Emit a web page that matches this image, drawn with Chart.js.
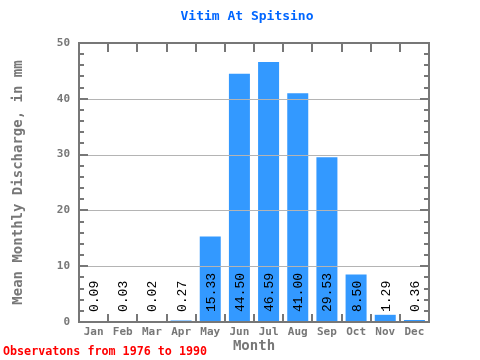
<!DOCTYPE html>
<html><head><meta charset="utf-8">
<script src="https://cdn.jsdelivr.net/npm/chart.js@4"></script>
<style>html,body{margin:0;padding:0;background:#fff}</style>
</head><body>
<canvas id="c" width="480" height="360"></canvas>
<script>
const chartTitle = 'Vitim At Spitsino';
const months = ['Jan','Feb','Mar','Apr','May','Jun','Jul','Aug','Sep','Oct','Nov','Dec'];
const discharge = [0.09, 0.03, 0.02, 0.27, 15.33, 44.50, 46.59, 41.00, 29.53, 8.50, 1.29, 0.36];
const valueLabels = ['0.09','0.03','0.02','0.27','15.33','44.50','46.59','41.00','29.53','8.50','1.29','0.36'];
const yMin = 0;
const yMax = 50;
const yStep = 10;
const yMinorStep = 2;
const yAxisTitle = 'Mean Monthly Discharge, in mm';
const xAxisTitle = 'Month';
const footerText = 'Observatons from 1976 to 1990';

const MONO = "'DejaVu Sans Mono', 'Liberation Mono', monospace";
const THIN = "'Liberation Mono', 'DejaVu Sans Mono', monospace";
const AXIS = '#777777';

const decor = {
  id: 'decor',
  afterDatasetsDraw(chart) {
    const ctx = chart.ctx;
    const a = chart.chartArea;
    const xs = chart.scales.x, ys = chart.scales.y;
    ctx.save();
    // horizontal gridlines over bars
    ctx.strokeStyle = '#b4b4b4';
    ctx.lineWidth = 1;
    ys.ticks.forEach(t => {
      if (t.value <= yMin || t.value >= yMax) return;
      const y = Math.round(ys.getPixelForValue(t.value)) + 0.5;
      ctx.beginPath(); ctx.moveTo(a.left, y); ctx.lineTo(a.right, y); ctx.stroke();
    });
    // y ticks (inward, both sides)
    ctx.strokeStyle = AXIS;
    ctx.lineWidth = 2;
    for (let v = yMin; v <= yMax; v += yMinorStep) {
      const y = Math.round(ys.getPixelForValue(v));
      const len = (v % yStep === 0) ? 9 : 5;
      ctx.beginPath(); ctx.moveTo(a.left, y); ctx.lineTo(a.left + len, y); ctx.stroke();
      ctx.beginPath(); ctx.moveTo(a.right, y); ctx.lineTo(a.right - len, y); ctx.stroke();
    }
    // category boundary ticks top & bottom
    const n = months.length;
    for (let i = 0; i <= n; i++) {
      let x;
      if (i === 0) x = a.left;
      else if (i === n) x = a.right;
      else x = (xs.getPixelForValue(i - 1) + xs.getPixelForValue(i)) / 2;
      x = Math.round(x);
      ctx.beginPath(); ctx.moveTo(x, a.top); ctx.lineTo(x, a.top + 9); ctx.stroke();
      ctx.beginPath(); ctx.moveTo(x, a.bottom); ctx.lineTo(x, a.bottom - 8); ctx.stroke();
    }
    // box
    ctx.strokeRect(a.left, a.top, a.right - a.left, a.bottom - a.top);
    // value labels
    const meta = chart.getDatasetMeta(0);
    const y0 = ys.getPixelForValue(0);
    ctx.fillStyle = '#000000';
    ctx.font = '13px ' + THIN;
    ctx.textAlign = 'left';
    ctx.textBaseline = 'middle';
    meta.data.forEach((bar, i) => {
      ctx.save();
      ctx.translate(bar.x + 1, y0 - 10);
      ctx.rotate(-Math.PI / 2);
      ctx.fillText(valueLabels[i], 0, 0);
      ctx.restore();
    });
    // title
    ctx.fillStyle = '#0066ff';
    ctx.font = 'bold 13px ' + MONO;
    ctx.textAlign = 'center';
    ctx.fillText(chartTitle, 247, 17);
    // footer
    ctx.fillStyle = '#ff0000';
    ctx.font = 'bold 11.7px ' + MONO;
    ctx.textAlign = 'left';
    ctx.fillText(footerText, 3, 352);
    ctx.restore();
  }
};

new Chart(document.getElementById('c'), {
  type: 'bar',
  data: {
    labels: months,
    datasets: [{
      data: discharge,
      backgroundColor: '#3399ff',
      borderWidth: 0,
      barPercentage: 0.72,
      categoryPercentage: 1.0
    }]
  },
  options: {
    responsive: false,
    devicePixelRatio: 1,
    animation: false,
    layout: { padding: { left: 0, right: 51, top: 43, bottom: 0 } },
    plugins: {
      legend: { display: false },
      tooltip: { enabled: false },
      title: { display: false }
    },
    scales: {
      x: {
        type: 'category',
        offset: true,
        grid: { display: false, drawTicks: false },
        border: { display: false },
        ticks: { color: AXIS, font: { family: MONO, size: 11, weight: 'bold' }, padding: 4, maxRotation: 0, autoSkip: false },
        title: { display: true, text: xAxisTitle, color: AXIS, font: { family: MONO, size: 14, weight: 'bold' }, padding: { top: 0, bottom: 5 } },
        afterFit(s) { s.height = 38; }
      },
      y: {
        min: yMin, max: yMax,
        grid: { display: false, drawTicks: false },
        border: { display: false },
        ticks: { stepSize: yStep, color: AXIS, font: { family: MONO, size: 11, weight: 'bold' }, padding: 9 },
        title: { display: true, text: yAxisTitle, color: AXIS, font: { family: MONO, size: 14, weight: 'bold' }, padding: { top: 10, bottom: 0 } },
        afterFit(s) { s.width = 79; }
      }
    }
  },
  plugins: [decor]
});
</script>
</body></html>
